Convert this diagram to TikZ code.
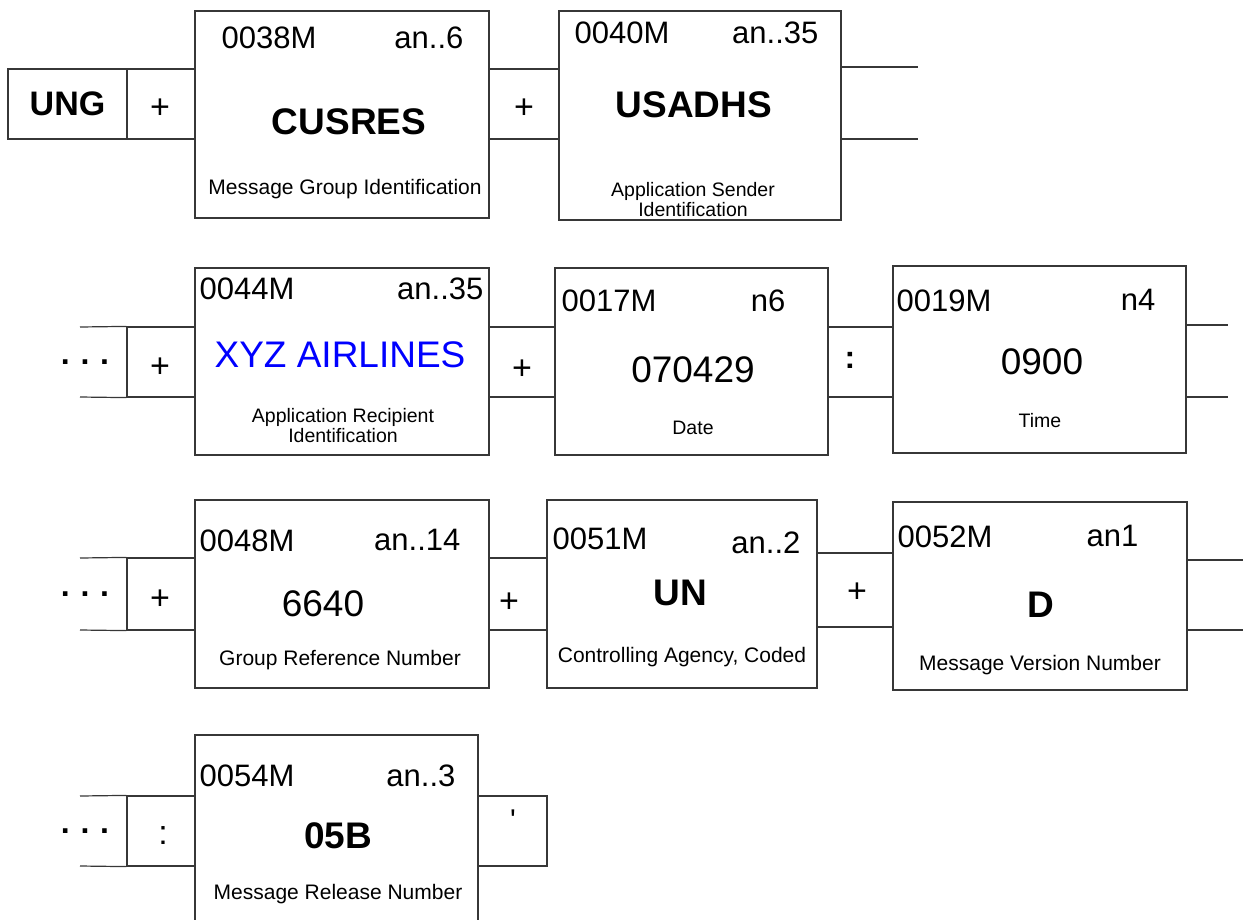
\documentclass[tikz,border=0pt]{standalone}
\usepackage{fontspec}
\setmainfont{Liberation Sans}
\newfontfamily\plainsans{Liberation Sans}
\usetikzlibrary{positioning}
\definecolor{linegray}{RGB}{55,55,55}
\definecolor{valueblue}{RGB}{0,0,255}

\begin{document}
\begin{tikzpicture}[x=1pt, y=-1pt,
      field/.style={draw=linegray, line width=1.2pt, inner sep=0pt},
      sepbox/.style={draw=linegray, line width=1.2pt, inner sep=0pt,
                     minimum height=70pt},
      open/.style={draw=linegray, line width=1.2pt},
      sym/.style={inner sep=0pt, font=\fontsize{34}{34}\selectfont},
      code/.style={inner sep=0pt, font=\fontsize{31}{31}\selectfont},
      val/.style={inner sep=0pt, font=\fontsize{37}{37}\selectfont},
      bval/.style={inner sep=0pt, font=\fontsize{37}{37}\selectfont\bfseries},
      desc/.style={inner sep=0pt, align=center, font=\fontsize{21}{22}\selectfont},
      sdesc/.style={inner sep=0pt, align=center, font=\fontsize{19.5}{20}\selectfont}
    ]
    \clip (0,0) rectangle (1243,919);

    % row 1
    \node[field, minimum width=119pt, minimum height=70pt,
          font=\fontsize{34}{34}\selectfont\bfseries] (ung) at (67.5,104) {UNG};
    \node[sepbox, minimum width=68pt] (s1) at (161,104) {};
    \node[field, minimum width=294pt, minimum height=207pt] (cusres) at (342,114.5) {};
    \node[sepbox, minimum width=70pt] (s2) at (524,104) {};
    \node[field, minimum width=282pt, minimum height=209pt] (usadhs) at (700,115.5) {};
    \coordinate (t1a) at (918,67);
    \coordinate (t1b) at (918,139);
    \draw[open] (usadhs.east |- t1a) -- (t1a);
    \draw[open] (usadhs.east |- t1b) -- (t1b);

    % row 2
    \coordinate (l2a) at (80,327);
    \coordinate (l2b) at (80,397);
    \node[sepbox, minimum width=68pt] (s3) at (161,362) {};
    \node[field, minimum width=294pt, minimum height=187pt] (xyz) at (342,361.5) {};
    \node[sepbox, minimum width=66pt] (s4) at (522,362) {};
    \node[field, minimum width=273pt, minimum height=187pt] (date) at (691.5,361.5) {};
    \node[sepbox, minimum width=65pt] (s5) at (860.5,362) {};
    \node[field, minimum width=293pt, minimum height=187pt] (time) at (1039.5,359.5) {};
    \coordinate (t2a) at (1228,325);
    \coordinate (t2b) at (1228,397);
    \draw[open] (l2a) -- (s3.north west);
    \draw[open] (l2b) -- (s3.south west);
    \draw[open] (time.east |- t2a) -- (t2a);
    \draw[open] (time.east |- t2b) -- (t2b);

    % row 3
    \coordinate (l3a) at (80,558);
    \coordinate (l3b) at (80,630);
    \node[sepbox, minimum width=68pt, minimum height=72pt] (s6) at (161,594) {};
    \node[field, minimum width=294pt, minimum height=188pt] (ref) at (342,594) {};
    \node[sepbox, minimum width=58pt, minimum height=72pt] (s7) at (518,594) {};
    \node[field, minimum width=270pt, minimum height=188pt] (agency) at (682,594) {};
    \node[sepbox, minimum width=76pt, minimum height=74pt] (s8) at (855,590) {};
    \node[field, minimum width=294pt, minimum height=188pt] (version) at (1040,596) {};
    \coordinate (t3a) at (1243,560);
    \coordinate (t3b) at (1243,630);
    \draw[open] (l3a) -- (s6.north west);
    \draw[open] (l3b) -- (s6.south west);
    \draw[open] (version.east |- t3a) -- (t3a);
    \draw[open] (version.east |- t3b) -- (t3b);

    % row 4
    \coordinate (l4a) at (80,796);
    \coordinate (l4b) at (80,866);
    \node[sepbox, minimum width=68pt] (s9) at (161,831) {};
    \node[field, minimum width=283pt, minimum height=230pt] (release) at (336.5,850) {};
    \node[sepbox, minimum width=69pt] (s10) at (512.5,831) {};
    \draw[open] (l4a) -- (s9.north west);
    \draw[open] (l4b) -- (s9.south west);

    % separator symbols
    \foreach \p/\s in {(160,109)/+, (524,109)/+, (160,368)/+, (522,370)/+,
                       (160,600)/+, (509,603)/+, (857,593)/+, (163,836)/:}{
      \node[sym] at \p {\s};
    }
    \node[sym, font=\fontsize{30}{30}\plainsans] (tick) at (513,820) {'};
    \node[sym, font=\fontsize{32}{32}\selectfont\bfseries] (colon) at (850,360) {:};
    \foreach \y in {362,594,831}{
      \node[sym, font=\fontsize{32}{32}\selectfont\bfseries] at (85,\y) {.\,\,.\,\,.};
    }

    % element codes and formats
    \foreach \f/\c/\t/\dy/\dt/\dl/\dr in {cusres/0038M/an..6/16/16/27/26,
        usadhs/0040M/an..35/11/11/16/23, xyz/0044M/an..35/10/10/5/6,
        date/0017M/n6/22/22/7/43, time/0019M/n4/24/24/4/31,
        ref/0048M/an..14/30/30/5/29, agency/0051M/an..2/28/32/6/17,
        version/0052M/an1/24/24/5/49, release/0054M/an..3/30/30/5/23}{
      \node[code, below right=\dy pt and \dl pt of \f.north west] {\c};
      \node[code, below left=\dt pt and \dr pt of \f.north east] {\t};
    }

    % values
    \node[bval] (v1) at (349,122) {CUSRES};
    \node[bval] (v2) at (694,105) {USADHS};
    \node[val, text=valueblue] (v3) at (340,355) {XYZ AIRLINES};
    \node[val] (v4) at (693,370) {070429};
    \node[val] (v5) at (1042,362) {0900};
    \node[val] (v6) at (323,604) {6640};
    \node[bval] (v7) at (680,593) {UN};
    \node[bval] (v8) at (1041,605) {D};
    \node[bval] (v9) at (338,836) {05B};

    % descriptions
    \node[desc] (d1) at (345,189) {Message Group Identification};
    \node[sdesc] (d2) at (693,200) {Application Sender\\Identification};
    \node[sdesc] (d3) at (343,426) {Application Recipient\\Identification};
    \node[sdesc] (d4) at (693,428) {Date};
    \node[sdesc] (d5) at (1040,421) {Time};
    \node[desc] (d6) at (340,660) {Group Reference Number};
    \node[desc] (d7) at (682,657) {Controlling Agency, Coded};
    \node[desc] (d8) at (1040,665) {Message Version Number};
    \node[desc] (d9) at (338,894) {Message Release Number};
  \end{tikzpicture}
\end{document}
